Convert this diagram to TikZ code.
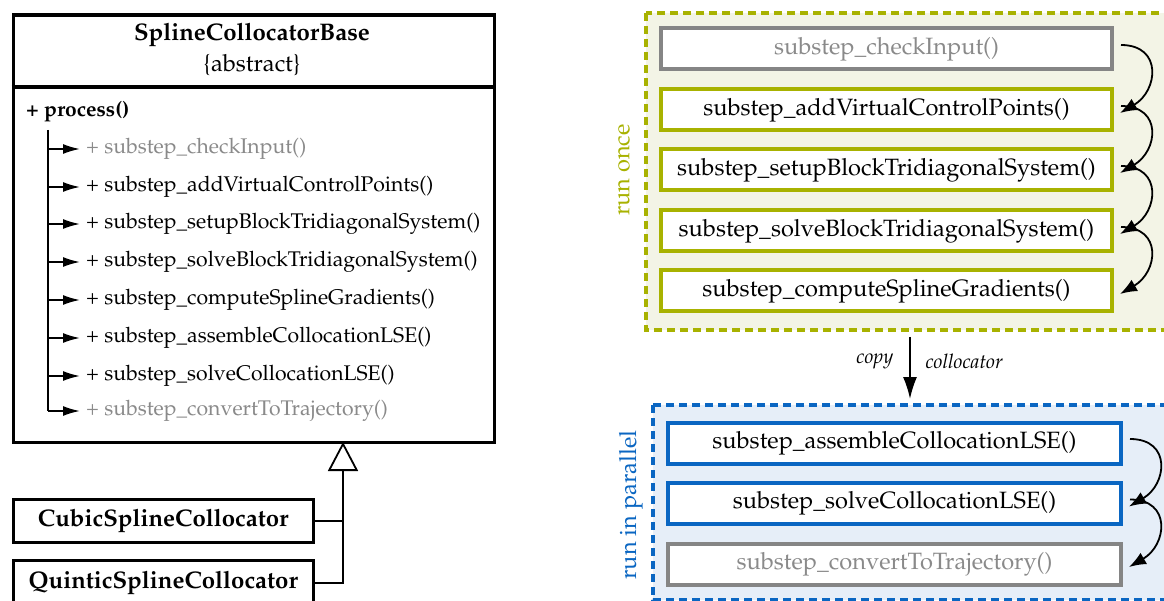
\documentclass[tikz,border=0pt]{standalone}
\usepackage[T1]{fontenc}
\usepackage{mathpazo}
\usetikzlibrary{arrows.meta,calc}
\definecolor{olv}{RGB}{168,178,0}
\definecolor{olvfill}{RGB}{243,244,230}
\definecolor{blu}{RGB}{10,102,194}
\definecolor{blufill}{RGB}{230,238,248}
\definecolor{gry}{RGB}{133,133,133}
\definecolor{gtxt}{RGB}{138,138,138}
\tikzset{
  bigtxt/.style={font=\fontsize{23.6}{28}\selectfont},
  itemtxt/.style={font=\fontsize{21.2}{25}\selectfont, anchor=west, inner sep=0pt},
  stepbox/.style={draw, line width=4pt, fill=white, minimum height=41pt, inner sep=0pt, bigtxt},
  obox/.style={stepbox, draw=olv, minimum width=451pt},
  bbox/.style={stepbox, draw=blu, minimum width=453pt},
  gbox/.style={stepbox, draw=gry, text=gtxt},
  umlbox/.style={draw, line width=3.5pt, anchor=north west, inner sep=0pt},
  flowarr/.style={line width=1.8pt, -{Latex[length=17pt,width=13pt]}},
  listarr/.style={line width=1.8pt, -{Latex[length=17pt,width=10pt]}},
  frame/.style={dash pattern=on 8pt off 5pt, line width=3.2pt},
}
\begin{document}
\begin{tikzpicture}[x=1pt,y=-1pt]
\clip (0,0) rectangle (1164,601);
\fill[white] (0,0) rectangle (1164,601);

% ---------- left UML ----------
\node[umlbox, minimum width=481pt, minimum height=427pt] (base) at (11.5,13.5) {};
\draw[line width=3.5pt] (base.west |- 0,87) -- (base.east |- 0,87);
\node[font=\fontsize{24}{28}\selectfont\bfseries] (title) at (252,35) {SplineCollocatorBase};
\node[font=\fontsize{23.6}{28}\selectfont] (abs) at (252,65) {\{abstract\}};
\node[itemtxt, font=\fontsize{21}{25}\selectfont\bfseries] (proc) at (26,112) {+ process()};
\coordinate (spine) at (48,130);
\foreach \n/\y/\t/\c in {1/149/checkInput/gtxt, 2/187/addVirtualControlPoints/black, 3/224/setupBlockTridiagonalSystem/black, 4/262/solveBlockTridiagonalSystem/black, 5/300/computeSplineGradients/black, 6/338/assembleCollocationLSE/black, 7/376/solveCollocationLSE/black, 8/411/convertToTrajectory/gtxt}{
  \node[itemtxt, text=\c] (i\n) at (86,\y) {+ substep\_\t()};
  \draw[listarr] (spine |- i\n) -- ([xshift=-6pt]i\n.west);
}
\draw[line width=1.8pt] (spine) -- (spine |- i8);

\node[umlbox, minimum width=300pt, minimum height=43pt, font=\fontsize{24}{28}\selectfont\bfseries] (cubic) at (11.5,497.5) {CubicSplineCollocator};
\node[umlbox, minimum width=300pt, minimum height=45pt, font=\fontsize{24}{28}\selectfont\bfseries] (quint) at (11.5,558.5) {QuinticSplineCollocator};
\coordinate (inh) at (343,442);
\draw[line width=1.8pt, -{Triangle[open, length=29pt, width=30pt, line width=1.8pt]}] (quint.east) -| (inh);
\draw[line width=1.8pt] (cubic.east) -- (cubic.east -| inh);

% ---------- run once ----------
\draw[frame, draw=olv, fill=olvfill] (646,13) rectangle (1190,330);
\node[bigtxt, text=olv, rotate=90] (once) at (624,170) {run once};
\node[gbox, minimum width=451pt] (s1) at (886.5,49) {substep\_checkInput()};
\node[obox] (s2) at (886.5,110) {substep\_addVirtualControlPoints()};
\node[obox] (s3) at (886.5,170) {substep\_setupBlockTridiagonalSystem()};
\node[obox] (s4) at (886.5,231) {substep\_solveBlockTridiagonalSystem()};
\node[obox] (s5) at (886.5,291) {substep\_computeSplineGradients()};
\foreach \a/\b in {s1/s2,s2/s3,s3/s4,s4/s5}{
  \draw[flowarr] ([xshift=7pt,yshift=4pt]\a.east) .. controls +(42,0) and +(38,-22) .. ([xshift=6pt,yshift=-3pt]\b.east);
}

% ---------- copy ----------
\coordinate (cpA) at (910,337);
\coordinate (cpB) at (910,399);
\draw[line width=1.8pt, -{Latex[length=22pt,width=14pt]}] (cpA) -- (cpB);
\node[font=\fontsize{20}{24}\selectfont\itshape, anchor=east] (copy) at (897,361) {copy};
\node[font=\fontsize{20}{24}\selectfont\itshape, anchor=west] (coll) at (922,361) {collocator};

% ---------- run in parallel ----------
\draw[frame, draw=blu, fill=blufill] (653,405) rectangle (1190,600);
\node[bigtxt, text=blu, rotate=90] (par) at (631,505) {run in parallel};
\node[bbox] (p1) at (894.5,443) {substep\_assembleCollocationLSE()};
\node[bbox] (p2) at (894.5,503.5) {substep\_solveCollocationLSE()};
\node[gbox, minimum width=453pt] (p3) at (894.5,564) {substep\_convertToTrajectory()};
\foreach \a/\b in {p1/p2,p2/p3}{
  \draw[flowarr] ([xshift=7pt,yshift=4pt]\a.east) .. controls +(42,0) and +(38,-22) .. ([xshift=6pt,yshift=-3pt]\b.east);
}
\end{tikzpicture}
\end{document}
